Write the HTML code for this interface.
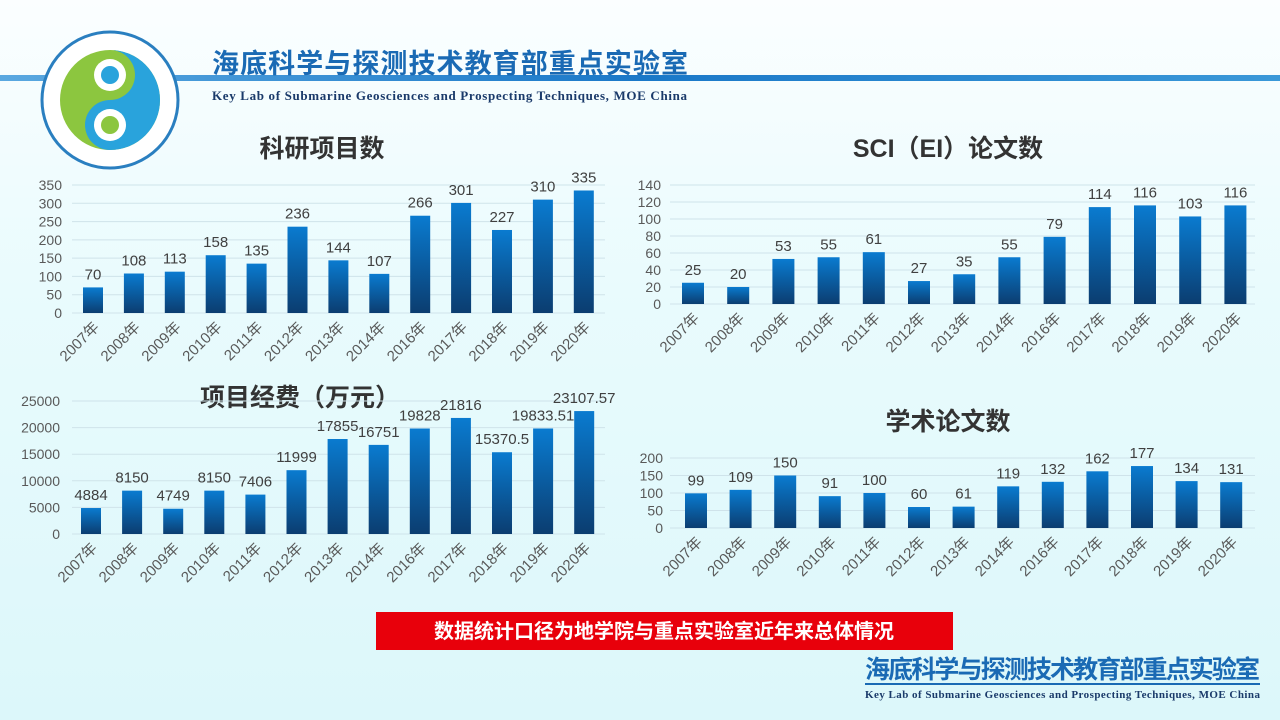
<!DOCTYPE html>
<html><head><meta charset="utf-8"><style>
html,body{margin:0;padding:0}
body{width:1280px;height:720px;overflow:hidden;background:linear-gradient(180deg,#fbfeff 0%,#e9fbfd 40%,#dcf7fa 100%);font-family:"Liberation Sans","Noto Sans CJK SC",sans-serif;position:relative}
svg{position:absolute;left:0;top:0}
</style></head><body>
<svg id="s" width="1280" height="720" xmlns="http://www.w3.org/2000/svg">
<defs>
<linearGradient id="bar" x1="0" y1="0" x2="0" y2="1"><stop offset="0" stop-color="#0a7bd0"/><stop offset="1" stop-color="#0b3d70"/></linearGradient>
<linearGradient id="ln" x1="0" y1="0" x2="1" y2="0"><stop offset="0" stop-color="#5aa8e0"/><stop offset="0.5" stop-color="#1a78c8"/><stop offset="1" stop-color="#3a98d8"/></linearGradient>
</defs>
<rect x="0" y="75" width="1280" height="6" fill="url(#ln)"/>
<circle cx="110" cy="100" r="68" fill="#fff" stroke="#2a7fc0" stroke-width="3"/>
<circle cx="110" cy="100" r="50" fill="#8cc63f"/>
<path d="M110 50 A50 50 0 0 1 110 150 A25 25 0 0 1 110 100 A25 25 0 0 0 110 50Z" fill="#29a3dc"/>
<circle cx="110" cy="75" r="16" fill="#fff"/><circle cx="110" cy="125" r="16" fill="#fff"/>
<circle cx="110" cy="75" r="9" fill="#29a3dc"/><circle cx="110" cy="125" r="9" fill="#8cc63f"/>
<text x="212" y="73" font-size="27" font-weight="bold" fill="#1a6ab4" font-family="Noto Sans CJK SC,sans-serif" textLength="476">海底科学与探测技术教育部重点实验室</text>
<text x="212" y="100" font-size="13" font-weight="bold" fill="#1a3a6a" font-family="Liberation Serif,serif" textLength="475">Key Lab of Submarine Geosciences and Prospecting Techniques, MOE China</text>
<g font-family="Liberation Sans,Noto Sans CJK SC,sans-serif" font-size="25" font-weight="bold" fill="#333" text-anchor="middle">
<text x="322" y="157">科研项目数</text>
<text x="948" y="157">SCI（EI）论文数</text>
<text x="300" y="406">项目经费（万元）</text>
<text x="948" y="430">学术论文数</text>
</g>
<rect x="376" y="612" width="577" height="38" fill="#e8000b"/>
<text x="664" y="638" font-size="20" font-weight="bold" fill="#fff" text-anchor="middle" font-family="Noto Sans CJK SC,sans-serif">数据统计口径为地学院与重点实验室近年来总体情况</text>
<text x="865" y="678" font-size="25" font-weight="bold" fill="#1a6ab4" font-family="Noto Sans CJK SC,sans-serif" textLength="395">海底科学与探测技术教育部重点实验室</text>
<rect x="865" y="683" width="395" height="2" fill="#1a6ab4"/>
<text x="865" y="698" font-size="11" font-weight="bold" fill="#1a3a6a" font-family="Liberation Serif,serif" textLength="395">Key Lab of Submarine Geosciences and Prospecting Techniques, MOE China</text>
<g id="charts"></g>
</svg>
<script>
var yrs=["2007年","2008年","2009年","2010年","2011年","2012年","2013年","2014年","2016年","2017年","2018年","2019年","2020年"];
var C=[
{v:[70,108,113,158,135,236,144,107,266,301,227,310,335],x0:72,x1:605,y0:313,y1:185,max:350,step:50,c0:93,cw:40.9,bw:20,ax:62},
{v:[25,20,53,55,61,27,35,55,79,114,116,103,116],x0:670,x1:1255,y0:304,y1:185,max:140,step:20,c0:693,cw:45.2,bw:22,ax:661},
{v:[4884,8150,4749,8150,7406,11999,17855,16751,19828,21816,15370.5,19833.51,23107.57],x0:72,x1:605,y0:534,y1:401,max:25000,step:5000,c0:91,cw:41.1,bw:20,ax:60},
{v:[99,109,150,91,100,60,61,119,132,162,177,134,131],x0:670,x1:1255,y0:528,y1:458,max:200,step:50,c0:696,cw:44.6,bw:22,ax:663}
];
var h="";
C.forEach(function(c){
 var sc=(c.y0-c.y1)/c.max;
 for(var t=0;t<=c.max;t+=c.step){var y=c.y0-t*sc;
  h+='<line x1="'+c.x0+'" x2="'+c.x1+'" y1="'+y+'" y2="'+y+'" stroke="#cfe3ea" stroke-width="1"/>';
  h+='<text x="'+c.ax+'" y="'+(y+5)+'" font-size="14" fill="#595959" text-anchor="end">'+t+'</text>';}
 c.v.forEach(function(v,i){var cx=c.c0+i*c.cw,bh=v*sc;
  h+='<rect x="'+(cx-c.bw/2)+'" y="'+(c.y0-bh)+'" width="'+c.bw+'" height="'+bh+'" fill="url(#bar)"/>';
  h+='<text x="'+cx+'" y="'+(c.y0-bh-8)+'" font-size="15" fill="#404040" text-anchor="middle">'+v+'</text>';
  h+='<text transform="translate('+(cx+7)+','+(c.y0+15)+') rotate(-45)" font-size="15" fill="#595959" text-anchor="end">'+yrs[i]+'</text>';
 });
});
document.getElementById("charts").innerHTML=h;
</script>
</body></html>
